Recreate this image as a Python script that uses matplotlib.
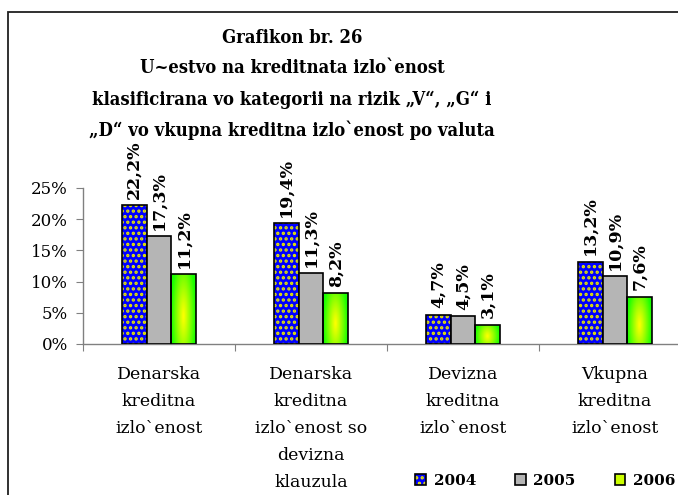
import matplotlib
matplotlib.use('Agg')
import matplotlib.pyplot as plt
import numpy as np
from matplotlib.patches import Rectangle, Patch
from matplotlib.legend_handler import HandlerTuple

# ---------------- data ----------------
categories = ["Denarska\nkreditna\nizlo`enost",
              "Denarska\nkreditna\nizlo`enost so\ndevizna\nklauzula",
              "Devizna\nkreditna\nizlo`enost",
              "Vkupna\nkreditna\nizlo`enost"]
years = ["2004", "2005", "2006"]
v2004 = [22.2, 19.4, 4.7, 13.2]
v2005 = [17.3, 11.3, 4.5, 10.9]
v2006 = [11.2, 8.2, 3.1, 7.6]
yticks = [0, 5, 10, 15, 20, 25]
ytick_labels = ["0%", "5%", "10%", "15%", "20%", "25%"]
title_lines = ["Grafikon br. 26",
               "U~estvo na kreditnata izlo`enost",
               "klasificirana vo kategorii na rizik „V“, „G“ i",
               "„D“ vo vkupna kreditna izlo`enost po valuta"]

W, H = 678, 495
fig = plt.figure(figsize=(W / 100, H / 100), dpi=100)
fig.patch.set_facecolor('white')
renderer = fig.canvas.get_renderer()

serif = ['DejaVu Serif']

# outer border
fig.patches.append(Rectangle((8 / W, -20 / H), 700 / W, (H - 12 + 20) / H,
                             transform=fig.transFigure, fill=False,
                             edgecolor='#202020', linewidth=1.3))

# title (condensed bold); size fitted to the reference width
title_texts = []
for line, yc in zip(title_lines, [38, 68, 100, 130]):
    t = fig.text(292 / W, 1 - yc / H, line, ha='center', va='center',
                 fontsize=15, fontweight='bold', family=['DejaVu Serif'],
                 fontstretch='condensed')
    title_texts.append(t)
widest = max(t.get_window_extent(renderer).width for t in title_texts)
scale = 408.0 / widest
for t in title_texts:
    t.set_fontsize(15 * scale)

ax = fig.add_axes([83 / W, (H - 344) / H, 608 / W, 156 / H])
ax.set_facecolor('none')

x = np.arange(len(categories))
bw = 0.164
series = [v2004, v2005, v2006]

plt.rcParams['hatch.linewidth'] = 1.6
# 2004: blue with yellow dotted pattern
ax.bar(x - bw, v2004, bw, color='#0000ff', edgecolor='#e8e800',
       hatch='...', linewidth=0, zorder=2)
ax.bar(x - bw, v2004, bw, facecolor='none', edgecolor='black',
       linewidth=1.2, zorder=3)
# 2005: gray
ax.bar(x, v2005, bw, color='#b5b5b5', edgecolor='black',
       linewidth=1.2, zorder=3)
# 2006: green/yellow gradient
b3 = ax.bar(x + bw, v2006, bw, facecolor='none', edgecolor='black',
            linewidth=1.2, zorder=3)
green = np.array([0.1, 1.0, 0.0])
yellow = np.array([1.0, 1.0, 0.0])
nx, ny = 40, 80
GX, GY = np.meshgrid(np.linspace(-1, 1, nx), np.linspace(-1, 1, ny))
for rect in b3:
    r = np.sqrt(GX ** 2 + ((GY + 0.2) * 0.55) ** 2)
    tt = np.clip(r, 0, 1) ** 1.1
    img = yellow[None, None, :] * (1 - tt[..., None]) + green[None, None, :] * tt[..., None]
    x0 = rect.get_x()
    im = ax.imshow(img, extent=(x0, x0 + rect.get_width(), 0, rect.get_height()),
                   origin='lower', aspect='auto', zorder=2, interpolation='bilinear')
    im.set_clip_path(rect)

# data labels
for off, vals in zip([-bw, 0, bw], series):
    for xi, v in zip(x, vals):
        ax.annotate(f"{v:.1f}%".replace('.', ','), (xi + off, v),
                    xytext=(0, 4.5), textcoords='offset points',
                    rotation=90, ha='center', va='bottom', fontsize=12.5,
                    fontweight='bold', family=serif, zorder=4,
                    annotation_clip=False)

ax.set_xlim(-0.5, len(categories) - 0.5)
ax.set_ylim(0, 25)
ax.set_yticks(yticks)
ax.set_yticklabels(ytick_labels, family=serif, fontsize=12)
ax.set_xticks(np.arange(len(categories) + 1) - 0.5)
ax.set_xticklabels([])
ax.set_xticks(x, categories, minor=True)
ax.tick_params(axis='x', which='major', length=5, color='#808080', direction='out')
ax.tick_params(axis='x', which='minor', length=0, pad=16)
for lbl in ax.get_xticklabels(minor=True):
    lbl.set_family(serif)
    lbl.set_fontsize(12.5)
    lbl.set_linespacing(1.77)
    lbl.set_va('top')
ax.tick_params(axis='y', length=5, color='#808080', pad=6)
for s in ['top', 'right']:
    ax.spines[s].set_visible(False)
for s in ['left', 'bottom']:
    ax.spines[s].set_color('#808080')
    ax.spines[s].set_linewidth(1.0)

# legend
h1 = (Patch(facecolor='#0000ff', edgecolor='#e8e800', hatch='...', linewidth=0),
      Patch(facecolor='none', edgecolor='black', linewidth=1.2))
h2 = Patch(facecolor='#b5b5b5', edgecolor='black', linewidth=1.2)
h3 = Patch(facecolor='#ccff00', edgecolor='black', linewidth=1.2)
fig.legend([h1, h2, h3], years, loc='center right', bbox_to_anchor=(689 / W, 1 - 481 / H),
           ncol=3, frameon=False, handler_map={tuple: HandlerTuple(ndivide=1)},
           handlelength=0.7, handleheight=0.7, handletextpad=0.5, columnspacing=2.55,
           prop={'family': serif, 'weight': 'bold', 'size': 11})

fig.savefig('out.png', dpi=100, facecolor='white')
